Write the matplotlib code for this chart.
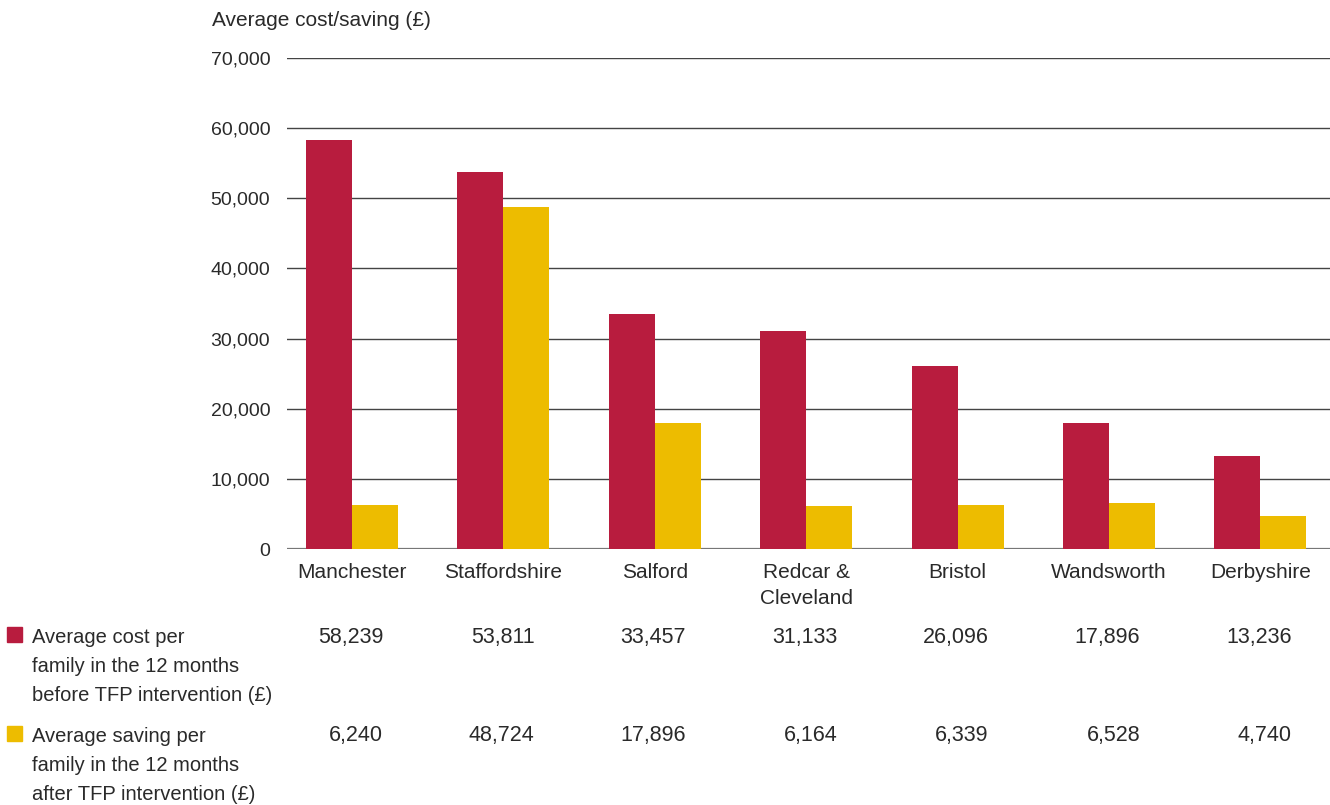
import numpy as np
import matplotlib
matplotlib.use("Agg")
import matplotlib.pyplot as plt
from matplotlib.patches import Rectangle
from matplotlib.transforms import blended_transform_factory

plt.rcParams['font.family'] = ['Liberation Sans', 'DejaVu Sans']

# data
areas = ["Manchester", "Staffordshire", "Salford", "Redcar &\nCleveland",
         "Bristol", "Wandsworth", "Derbyshire"]
cost_before = [58239, 53811, 33457, 31133, 26096, 17896, 13236]
saving_after = [6240, 48724, 17896, 6164, 6339, 6528, 4740]
series_labels = ["Average cost per\nfamily in the 12 months\nbefore TFP intervention (£)",
                 "Average saving per\nfamily in the 12 months\nafter TFP intervention (£)"]
y_ticks = [0, 10000, 20000, 30000, 40000, 50000, 60000, 70000]

RED = "#B81C3E"
YEL = "#EDBC00"
TXT = "#2a2a2a"
W, H = 1330, 805

fig = plt.figure(figsize=(W / 100, H / 100), dpi=100)
# axes box in pixels: left 287, right 1330, top 58, bottom 549
ax = fig.add_axes([287 / W, 1 - 549 / H, (1330 - 287) / W, (549 - 58) / H])

x = np.arange(len(areas))
bw = 0.304
ax.bar(x - bw / 2, cost_before, bw, color=RED, zorder=3)
ax.bar(x + bw / 2, saving_after, bw, color=YEL, zorder=3)

ax.set_xlim(-0.43, 6.46)
ax.set_ylim(0, 70000)
ax.set_yticks(y_ticks)
ax.set_yticklabels([f"{v:,}" for v in y_ticks], fontsize=14, color=TXT)
ax.tick_params(axis="y", length=0, pad=12)
ax.set_xticks([])
for s in ax.spines.values():
    s.set_visible(False)
for v in y_ticks:
    ax.axhline(v, color="#444444" if v else "#777777", lw=1.0 if v else 1.6, zorder=1)

fig.text(212 / W, 1 - 21 / H, "Average cost/saving (£)", fontsize=15, color=TXT,
         ha="left", va="center")

# category labels and table values below the axes
tr = blended_transform_factory(ax.transData, fig.transFigure)
for i, name in enumerate(areas):
    ax.text(i, 1 - 563 / H, name, transform=tr, ha="center", va="top", fontsize=15,
            color=TXT, linespacing=1.45, clip_on=False)
    ax.text(i + 0.205, 1 - 637 / H, f"{cost_before[i]:,}", transform=tr, ha="right",
            va="center", fontsize=15.5, color=TXT, clip_on=False)
    ax.text(i + 0.205, 1 - 735 / H, f"{saving_after[i]:,}", transform=tr, ha="right",
            va="center", fontsize=15.5, color=TXT, clip_on=False)

# legend rows
for ytop, col, lab in [(627, RED, series_labels[0]), (726, YEL, series_labels[1])]:
    fig.patches.append(Rectangle((7 / W, 1 - (ytop + 15) / H), 15 / W, 15 / H,
                                 transform=fig.transFigure, color=col))
    fig.text(32 / W, 1 - (ytop + 1) / H, lab, fontsize=14.5, color=TXT, ha="left",
             va="top", linespacing=1.65)

fig.savefig("out.png", dpi=100)
